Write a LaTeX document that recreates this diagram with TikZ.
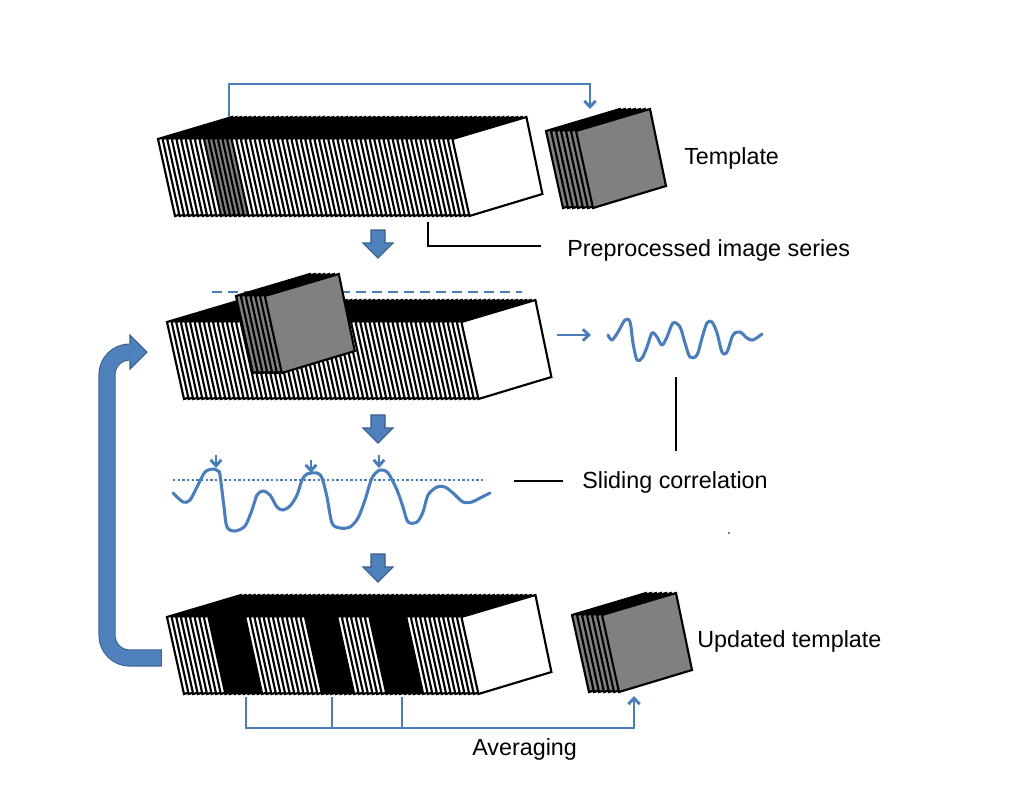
\documentclass[tikz,border=0pt]{standalone}
\usepackage{fontspec}
\setmainfont{Liberation Sans}
\usetikzlibrary{arrows.meta}
\definecolor{lineblue}{HTML}{4A7EBB}
\definecolor{blockblue}{HTML}{4F81BD}
\definecolor{blockedge}{HTML}{385D8A}
\definecolor{framegray}{HTML}{808080}
\tikzset{
  framestyle/.style={draw=black, line width=1.6pt, line join=miter},
  blueline/.style={draw=lineblue, line width=2.2pt},
  leader/.style={draw=black, line width=1.5pt},
  txt/.style={inner sep=0pt, anchor=base west, font=\fontsize{17.5}{21}\selectfont},
  barb/.style={-{Straight Barb[length=4.5pt,width=8.5pt]}},
  smallbarb/.style={-{Straight Barb[length=4.5pt,width=8pt]}},
  blockarrow/.style={fill=blockblue, draw=blockedge, line width=0.8pt},
  wave/.style={draw=lineblue, line width=2.3pt, line cap=round, line join=round},
}
% one tilted frame: TL, TR, BR, BL
\newcommand\drawstack[4]{%
  \fill[black] (#1,#2) -- ++(74,-22) -- ++({#3*#4},0) -- ++(-74,22) -- cycle;
  \foreach \i in {0,...,#3}{%
    \pgfmathsetmacro\xx{#1+#4*\i}%
    \stackfill
    \filldraw[framestyle, fill=\fc] (\xx,#2) -- ++(74,-22) -- ++(16,77) -- ++(-73,22) -- cycle;
  }%
}
\newcommand\blockdown[2]{%
  \filldraw[blockarrow] (#1-7,#2) -- (#1+7,#2) -- (#1+7,#2+13) -- (#1+15,#2+13)
    -- (#1,#2+28) -- (#1-15,#2+13) -- (#1-7,#2+13) -- cycle;
}
\begin{document}
\begin{tikzpicture}[x=0.75pt, y=-0.75pt]
\useasboundingbox (0,0) rectangle (1012,794);

% ---------- stack 1 (preprocessed series) ----------
\def\stackfill{\def\fc{white}\ifnum\i>9 \ifnum\i<16 \def\fc{framegray}\fi\fi}
\drawstack{158}{139}{64}{4.6}
\coordinate (s1top) at (229,117);
\coordinate (s1lead) at (428,222);

% template (top right)
\def\stackfill{\def\fc{framegray}}
\drawstack{546}{131}{6}{5}
\coordinate (tpltop) at (590,109);

% top connector
\draw[blueline, barb] (s1top) -- (229,84) -- (590,84) -- (tpltop);

\node[txt] (tpl) at (684,164) {Template};
\node[txt] (pre) at (567,256) {Preprocessed image series};
\coordinate (prelead) at (541,246);
\draw[leader] (s1lead) |- (prelead);

% block arrow 1
\blockdown{378}{230}

% ---------- stack 2 (sliding) ----------
\def\stackfill{\def\fc{white}}
\drawstack{167}{322}{64}{4.6}
\draw[draw=lineblue, line width=2.2pt, dash pattern=on 7.5pt off 4.5pt] (212,292) -- (522,292);
\def\stackfill{\def\fc{framegray}}
\drawstack{236}{296}{6}{4.8}

% arrow to wave and wave
\coordinate (s2out) at (557,335);
\coordinate (wavein) at (591,335);
\draw[blueline, barb] (s2out) -- (wavein);
\draw[wave] plot[smooth, tension=0.55] coordinates {
 (608,335) (612,340) (618,332) (625,320) (630,322) (633,343) (637,360) (642,358)
 (647,347) (652,333) (657,337) (662,345) (667,337) (673,323) (680,327) (685,343)
 (690,357) (697,355) (702,338) (707,323) (712,322) (717,333) (722,352) (727,352)
 (733,335) (740,332) (747,338) (753,340) (762,334)};

% block arrow 2
\blockdown{378}{415}

% ---------- correlation ----------
\draw[draw=lineblue, line width=2.2pt, dash pattern=on 1.7pt off 1.8pt] (173,480) -- (483,480);
\draw[wave] plot[smooth, tension=0.5] coordinates {
 (173,493) (183,502) (190,500) (198,485) (205,472) (213,469) (218,471) (220,475)
 (224,507) (227,527) (235,531) (245,526) (252,510) (257,495) (263,491) (270,495)
 (277,507) (283,510) (290,506) (297,495) (302,480) (307,474) (317,473) (322,478)
 (327,497) (332,523) (340,528) (350,527) (358,518) (365,500) (372,478) (380,470)
 (388,473) (397,490) (403,507) (408,522) (417,522) (423,512) (428,495) (437,487)
 (445,487) (453,493) (463,502) (472,502) (480,498) (490,493)};
\foreach \px/\py in {216/468, 311/473, 379/468}{
  \draw[draw=lineblue, line width=2.2pt, smallbarb] (\px,\py-13) -- (\px,\py);
}
\node[txt] (slide) at (582,488) {Sliding correlation};
\coordinate (slideL) at (514,481);
\coordinate (slideR) at (563,481);
\draw[leader] (slideL) -- (slideR);
\coordinate (vtop) at (676,377);
\coordinate (vbot) at (676,451);
\draw[leader] (vtop) -- (vbot);
\fill[black] (729,533) circle (0.9);

% block arrow 3
\blockdown{378}{554}

% ---------- stack 3 (updated) ----------
\def\stackfill{\def\fc{white}%
  \ifnum\i>8 \ifnum\i<17 \def\fc{black}\fi\fi
  \ifnum\i>29 \ifnum\i<37 \def\fc{black}\fi\fi
  \ifnum\i>43 \ifnum\i<52 \def\fc{black}\fi\fi}
\drawstack{167}{617}{64}{4.6}

% updated template
\def\stackfill{\def\fc{framegray}}
\drawstack{572}{615}{6}{5}
\node[txt] (upd) at (697,647) {Updated template};

% averaging connector
\coordinate (a1) at (246,697);
\coordinate (a2) at (332,697);
\coordinate (a3) at (402,697);
\coordinate (updbot) at (634,696);
\draw[blueline] (a2) -- (332,728);
\draw[blueline] (a3) -- (402,728);
\draw[blueline, barb] (a1) |- (634,728) -- (updbot);
\node[txt] (avg) at (472,755) {Averaging};

% ---------- feedback U arrow ----------
\draw[draw=blockedge, line width=12.8pt, rounded corners=17pt] (161.8,658) -- (107,658) -- (107,352) -- (130,352);
\draw[draw=blockblue, line width=11.3pt, rounded corners=17pt] (161,658) -- (107,658) -- (107,352) -- (130.5,352);
\fill[blockblue] (130,335) -- (147,352) -- (130,369) -- cycle;
\draw[draw=blockedge, line width=0.8pt, line join=miter] (130,343.5) -- (130,335) -- (147,352) -- (130,369) -- (130,360.5);
\end{tikzpicture}
\end{document}
